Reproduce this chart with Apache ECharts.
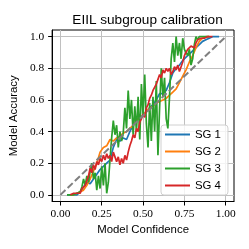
<!DOCTYPE html>
<html>
<head>
<meta charset="utf-8">
<script src="https://cdn.jsdelivr.net/npm/echarts@6/dist/echarts.min.js"></script>
<style>
html,body{margin:0;padding:0;background:#fff;}
#c{width:249px;height:249px;}
</style>
</head>
<body>
<div id="c"></div>
<script>
const confCoarse = [0.04,0.06,0.08,0.10,0.12,0.14,0.16,0.18,0.20,0.22,
  0.24,0.26,0.28,0.30,0.32,0.34,0.36,0.38,0.40,0.42,
  0.44,0.46,0.48,0.50,0.52,0.54,0.56,0.58,0.60,0.62,
  0.64,0.66,0.68,0.70,0.72,0.74,0.76,0.78,0.80,0.82,
  0.84,0.86,0.88,0.90,0.92,0.94,0.96];
const sg1 = [0,0,0,0,0.02,0.05,0.08,0.07,0.10,0.13,
  0.16,0.18,0.20,0.22,0.30,0.35,0.34,0.36,0.35,0.40,
  0.44,0.47,0.49,0.50,0.53,0.55,0.57,0.60,0.64,0.64,
  0.66,0.71,0.77,0.80,0.82,0.85,0.87,0.89,0.91,0.93,
  0.95,0.97,0.98,0.99,1,1,1];
const sg2 = [null,0,0,0.01,0.02,0.03,0.06,0.10,0.15,0.20,
  0.27,0.30,0.31,0.35,0.34,0.36,0.37,0.39,0.40,0.42,
  0.44,0.47,0.49,0.50,0.53,0.55,0.56,0.58,0.59,0.60,
  0.61,0.63,0.65,0.67,0.71,0.75,0.79,0.84,0.88,0.93,
  0.97,0.99,1,1,null,null,null];
const confFine = [0.04,0.05,0.06,0.07,0.08,0.09,0.10,0.11,0.12,0.13,
  0.14,0.15,0.16,0.17,0.18,0.19,0.20,0.21,0.22,0.23,
  0.24,0.25,0.26,0.27,0.28,0.29,0.30,0.31,0.32,0.33,
  0.34,0.35,0.36,0.37,0.38,0.39,0.40,0.41,0.42,0.43,
  0.44,0.45,0.46,0.47,0.48,0.49,0.50,0.51,0.52,0.53,
  0.54,0.55,0.56,0.57,0.58,0.59,0.60,0.61,0.62,0.63,
  0.64,0.65,0.66,0.67,0.68,0.69,0.70,0.71,0.72,0.73,
  0.74,0.75,0.76,0.77,0.78,0.79,0.80,0.81,0.82,0.83,
  0.84,0.85,0.86,0.87,0.88,0.89,0.90,0.91,0.92];
const sg3 = [0,0,0,0,0,0,0.01,0,0.02,0.05,
  0.10,0.06,0.12,0.08,0.15,0.20,0.10,0.14,0.03,0.12,
  0.04,0.18,0.06,0.20,0.01,0.08,0.22,0.36,0.47,0.38,
  0.44,0.30,0.40,0.34,0.39,0.55,0.42,0.66,0.48,0.60,
  0.38,0.56,0.40,0.62,0.35,0.70,0.50,0.76,0.45,0.30,
  0.58,0.34,0.62,0.40,0.72,0.25,0.55,0.80,0.62,0.74,
  0.48,0.42,0.62,0.86,0.96,0.84,1.00,0.88,0.96,0.86,
  0.99,0.92,0.93,0.88,0.92,0.82,0.86,0.95,1.00,0.98,
  1,1,1,1,1,1,1,null,null];
const sg4 = [null,null,0,0,0.01,0,0.01,0.02,0.01,0.04,
  0.03,0.06,0.05,0.12,0.17,0.14,0.19,0.16,0.21,0.19,
  0.23,0.21,0.25,0.22,0.26,0.23,0.25,0.21,0.27,0.24,
  0.21,0.24,0.19,0.23,0.20,0.25,0.22,0.27,0.31,0.34,
  0.38,0.36,0.42,0.40,0.46,0.48,0.51,0.49,0.55,0.57,
  0.61,0.63,0.66,0.65,0.70,0.73,0.76,0.74,0.79,0.77,
  0.80,0.78,0.80,0.76,0.78,0.81,0.79,0.82,0.78,0.81,
  0.84,0.88,0.90,0.92,0.91,0.94,0.95,0.93,0.96,0.98,
  0.97,0.99,1,0.99,1,1,1,1,1];
const seriesNames = ['SG 1','SG 2','SG 3','SG 4'];
const seriesColors = ['#1f77b4','#ff7f0e','#2ca02c','#d62728'];
const xTicks = [0,0.25,0.5,0.75,1];
const yTicks = [0,0.2,0.4,0.6,0.8,1];
const diagX = [0,1];
const diagY = [0,1];

function pairs(xs, ys){ return xs.map((x,i)=>[x, ys[i]]).filter(p=>p[1]!==null); }

const chart = echarts.init(document.getElementById('c'), null, {renderer:'canvas'});
const sans = 'Liberation Sans';
const serif = 'Liberation Serif';
const dataSets = [pairs(confCoarse,sg1), pairs(confCoarse,sg2), pairs(confFine,sg3), pairs(confFine,sg4)];
const series = dataSets.map((d,i)=>({
  name: seriesNames[i], type:'line', data:d, symbol:'none', showSymbol:false,
  lineStyle:{width:1.7, color:seriesColors[i]}, itemStyle:{color:seriesColors[i]},
  z: 2+i, animation:false
}));
series.push({
  name:'diag', type:'line', data: pairs(diagX, diagY), symbol:'none',
  lineStyle:{width:2, color:'#808080', type:[7,3]}, z:10, animation:false, silent:true
});
chart.setOption({
  animation:false,
  title:{text:'EIIL subgroup calibration', left:142.5, textAlign:'center', top:8,
    textStyle:{fontFamily:sans, fontSize:13.6, fontWeight:'normal', color:'#000'}},
  grid:{left:51, top:30, width:183, height:171.5, show:true, borderColor:'#000', borderWidth:1, containLabel:false},
  legend:{data:seriesNames.map((n,i)=>({name:n, icon:'rect', itemStyle:{color:seriesColors[i]}})),
    orient:'vertical', left:161, top:125, itemWidth:25, itemHeight:2, itemGap:4,
    padding:[3,7,3,4], textStyle:{fontFamily:sans, fontSize:11.4, color:'#000', lineHeight:13},
    borderColor:'#d0d0d0', borderWidth:1, borderRadius:3, backgroundColor:'rgba(255,255,255,0.8)'},
  xAxis:{type:'value', min:-0.05, max:1.05,
    axisLine:{show:true, onZero:false, lineStyle:{color:'#000', width:1}},
    axisTick:{show:true, customValues:xTicks, length:4, lineStyle:{color:'#000'}},
    axisLabel:{customValues:xTicks, formatter:v=>v.toFixed(2), fontFamily:serif, fontSize:11.4, color:'#000', margin:7},
    splitLine:{show:true, lineStyle:{color:'#c0c0c0', width:1}},
    name:'Model Confidence', nameLocation:'middle', nameGap:23,
    nameTextStyle:{fontFamily:sans, fontSize:11.4, color:'#000'}},
  yAxis:{type:'value', min:-0.042, max:1.042,
    axisLine:{show:true, onZero:false, lineStyle:{color:'#000', width:1}},
    axisTick:{show:true, customValues:yTicks, length:4, lineStyle:{color:'#000'}},
    axisLabel:{customValues:yTicks, formatter:v=>v.toFixed(1), fontFamily:serif, fontSize:11.4, color:'#000', margin:8},
    splitLine:{show:true, lineStyle:{color:'#c0c0c0', width:1}},
    name:'Model Accuracy', nameLocation:'middle', nameGap:29, nameRotate:90,
    nameTextStyle:{fontFamily:sans, fontSize:11.4, color:'#000'}},
  series: series
});
</script>
</body>
</html>
